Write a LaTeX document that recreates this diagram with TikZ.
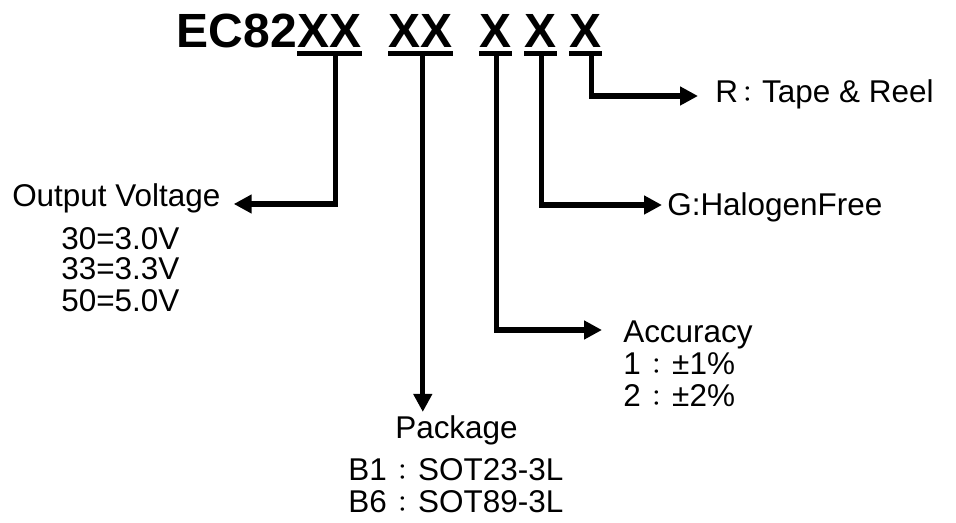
\documentclass[tikz,border=0pt]{standalone}
\usepackage{fontspec}
\setmainfont{Liberation Sans}
\newfontfamily\cjk{Noto Sans CJK JP}
\newcommand{\fwc}[1][1em]{\makebox[#1]{\cjk\fontsize{17pt}{17pt}\selectfont ：}}
\usetikzlibrary{arrows.meta,calc}
\begin{document}
\begin{tikzpicture}[x=0.75pt,y=-0.75pt,
  ttl/.style={inner sep=0pt,font=\fontsize{36pt}{40pt}\selectfont\bfseries},
  lbl/.style={inner sep=0pt,anchor=base west,font=\fontsize{23.6pt}{28pt}\selectfont},
  ul/.style={line width=3.9pt},
  arr/.style={line width=3.9pt,-{Triangle[length=13.5pt,width=13.5pt]}}]
\useasboundingbox (0,0) rectangle (956,523);
% title
\node[ttl,anchor=base east] (ec) at (297,47.5) {EC82};
\node[ttl,anchor=base west] (x1) at (297,47.5) {XX};
\node[ttl,anchor=base west] (x2) at (388,47.5) {XX};
\node[ttl,anchor=base west] (x3) at (479,47.5) {X};
\node[ttl,anchor=base west] (x4) at (524,47.5) {X};
\node[ttl,anchor=base west] (x5) at (569,47.5) {X};
\foreach \n in {x1,x2,x3,x4,x5}
  \draw[ul] ($(\n.base west)+(0,6)$) -- ($(\n.base east)+(0,6)$);
% labels
\node[lbl] (ov) at (12,207) {Output Voltage};
\node[lbl] (v30) at (61,250) {30=3.0V};
\node[lbl] (v33) at (61,280) {33=3.3V};
\node[lbl] (v50) at (61,312) {50=5.0V};
\node[lbl] (pk) at (395,439) {Package};
\node[lbl] (b1) at (348,480) {B1\fwc SOT23-3L};
\node[lbl] (b6) at (348,512) {B6\fwc SOT89-3L};
\node[lbl] (acc) at (623,343) {Accuracy};
\node[lbl] (a1) at (623,375) {1\fwc ±1\%};
\node[lbl] (a2) at (623,407) {2\fwc ±2\%};
\node[lbl] (hf) at (667,216) {G:HalogenFree};
\node[lbl] (tr) at (715,103) {R\fwc[0.6em]\hspace{0.17em}Tape \& Reel};
% stems
\coordinate (s1) at ($(x1.base)+(6.5,6)$);
\coordinate (s2) at ($(x2.base)+(2.5,6)$);
\coordinate (s3) at ($(x3.base)+(1.5,6)$);
\coordinate (s4) at ($(x4.base)+(1.5,6)$);
\coordinate (s5) at ($(x5.base)+(6.5,6)$);
% connectors
\draw[arr] (s1) |- ($(ov.base east)+(13,-3)$);
\draw[arr] (s2) -- ($(s2 |- pk.north)+(0,-4)$);
\draw[arr] (s3) |- ($(acc.base west)+(-21,-13)$);
\draw[arr] (s4) |- ($(hf.base west)+(-5,-11)$);
\draw[arr] (s5) |- ($(tr.base west)+(-17,-7)$);
\end{tikzpicture}
\end{document}
